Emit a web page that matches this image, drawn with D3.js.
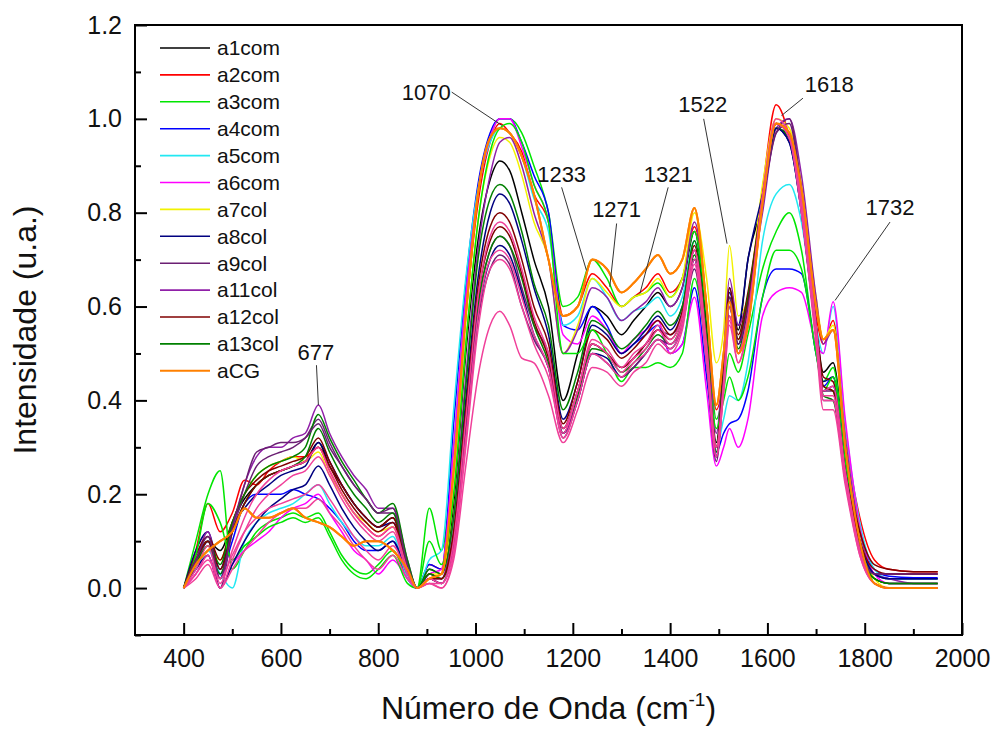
<!DOCTYPE html>
<html>
<head>
<meta charset="utf-8">
<script src="https://cdn.jsdelivr.net/npm/d3@7"></script>
<style>
body { margin: 0; background: #fff; }
svg { display: block; font-family: "Liberation Sans", Arial, sans-serif; }
</style>
</head>
<body>
<svg id="chart" width="994" height="731"></svg>
<script>
// wavenumber grid (cm-1) shared by every spectrum
const wavenumbers = [400, 425, 450, 475, 500, 525, 550, 575, 600, 625,
    650, 677, 700, 725, 750, 775, 800, 830, 860, 880,
    905, 930, 955, 980, 1005, 1030, 1050, 1070, 1095, 1120,
    1150, 1180, 1210, 1240, 1270, 1300, 1325, 1350, 1375, 1400,
    1425, 1450, 1475, 1495, 1510, 1522, 1540, 1560, 1590, 1618,
    1645, 1670, 1700, 1715, 1735, 1760, 1790, 1820, 1850, 1900, 1950]

const a1com = [0, 0.06, 0.1, 0.08, 0.14, 0.19, 0.22, 0.24, 0.25, 0.26,
    0.27, 0.31, 0.26, 0.22, 0.18, 0.15, 0.13, 0.15, 0.05, 0.0,
    0.04, 0.03, 0.18, 0.5, 0.74, 0.87, 0.91, 0.89, 0.8, 0.7,
    0.6, 0.4, 0.5, 0.6, 0.58, 0.54, 0.57, 0.6, 0.63, 0.6,
    0.64, 0.76, 0.56, 0.31, 0.48, 0.64, 0.55, 0.7, 0.82, 0.98,
    0.96, 0.82, 0.56, 0.46, 0.48, 0.28, 0.1, 0.02, 0.01, 0.01, 0.01]
const a2com = [0, 0.08, 0.18, 0.12, 0.16, 0.23, 0.22, 0.25, 0.27, 0.28,
    0.28, 0.3, 0.25, 0.2, 0.16, 0.13, 0.11, 0.13, 0.04, 0.0,
    0.05, 0.04, 0.25, 0.58, 0.82, 0.95, 0.99, 0.97, 0.93, 0.84,
    0.78, 0.58, 0.6, 0.67, 0.64, 0.6, 0.62, 0.64, 0.67, 0.63,
    0.66, 0.77, 0.6, 0.38, 0.45, 0.58, 0.5, 0.6, 0.85, 1.03,
    0.96, 0.82, 0.58, 0.52, 0.57, 0.33, 0.15, 0.06, 0.04, 0.035, 0.035]
const a3com = [0, 0.1, 0.2, 0.25, 0.04, 0.08, 0.12, 0.14, 0.15, 0.16,
    0.15, 0.16, 0.12, 0.07, 0.04, 0.03, 0.05, 0.08, 0.02, 0.0,
    0.17, 0.08, 0.3, 0.62, 0.84, 0.96, 1.0, 1.0, 0.97, 0.9,
    0.8, 0.6, 0.62, 0.7, 0.66, 0.6, 0.62, 0.63, 0.65, 0.62,
    0.66, 0.76, 0.58, 0.36, 0.42, 0.5, 0.46, 0.54, 0.68, 0.76,
    0.8, 0.72, 0.5, 0.44, 0.47, 0.28, 0.1, 0.01, 0.0, 0.0, 0.0]
const a4com = [0, 0.05, 0.1, 0.03, 0.1, 0.18, 0.2, 0.2, 0.2, 0.21,
    0.2, 0.19, 0.17, 0.14, 0.1, 0.08, 0.08, 0.1, 0.02, 0.0,
    0.05, 0.04, 0.35, 0.65, 0.86, 0.97, 1.0, 1.0, 0.95, 0.88,
    0.8, 0.56, 0.55, 0.6, 0.56, 0.5, 0.52, 0.54, 0.56, 0.5,
    0.52, 0.64, 0.45, 0.29, 0.33, 0.35, 0.36, 0.42, 0.62, 0.68,
    0.68, 0.67, 0.5, 0.43, 0.45, 0.27, 0.12, 0.04, 0.025, 0.022, 0.022]
const a5com = [0, 0.04, 0.08, 0.03, 0.0, 0.1, 0.14, 0.16, 0.17, 0.18,
    0.2, 0.22, 0.18, 0.14, 0.11, 0.09, 0.09, 0.11, 0.02, 0.0,
    0.06, 0.08, 0.38, 0.66, 0.85, 0.95, 0.98, 0.97, 0.92, 0.83,
    0.76, 0.56, 0.58, 0.66, 0.62, 0.57, 0.59, 0.6, 0.62, 0.58,
    0.62, 0.74, 0.52, 0.3, 0.36, 0.41, 0.4, 0.48, 0.74, 0.84,
    0.86, 0.78, 0.56, 0.5, 0.6, 0.35, 0.14, 0.04, 0.02, 0.02, 0.02]
const a6com = [0, 0.03, 0.07, 0.0, 0.05, 0.08, 0.1, 0.12, 0.15, 0.17,
    0.18, 0.2, 0.16, 0.12, 0.08, 0.06, 0.03, 0.06, 0.02, 0.0,
    0.03, 0.04, 0.3, 0.62, 0.84, 0.96, 1.0, 1.0, 0.94, 0.86,
    0.78, 0.54, 0.52, 0.58, 0.55, 0.5, 0.53, 0.55, 0.57, 0.5,
    0.52, 0.62, 0.42, 0.26, 0.3, 0.34, 0.3, 0.36, 0.58, 0.63,
    0.64, 0.63, 0.52, 0.5, 0.61, 0.36, 0.13, 0.03, 0.01, 0.01, 0.01]
const a7col = [0, 0.05, 0.09, 0.06, 0.14, 0.2, 0.24, 0.26, 0.27, 0.28,
    0.27, 0.29, 0.24, 0.2, 0.16, 0.14, 0.12, 0.13, 0.04, 0.0,
    0.03, 0.03, 0.2, 0.52, 0.78, 0.92, 0.96, 0.95, 0.88, 0.78,
    0.7, 0.5, 0.56, 0.66, 0.63, 0.6, 0.62, 0.63, 0.66, 0.62,
    0.66, 0.8, 0.66, 0.48, 0.55, 0.73, 0.58, 0.62, 0.86, 1.0,
    0.98, 0.86, 0.62, 0.53, 0.56, 0.32, 0.12, 0.02, 0.0, 0.0, 0.0]
const a8col = [0, 0.08, 0.12, 0.04, 0.13, 0.17, 0.2, 0.22, 0.24, 0.25,
    0.26, 0.31, 0.27, 0.22, 0.18, 0.15, 0.13, 0.14, 0.05, 0.0,
    0.03, 0.02, 0.12, 0.4, 0.66, 0.8, 0.84, 0.82, 0.74, 0.64,
    0.54, 0.36, 0.44, 0.56, 0.54, 0.5, 0.52, 0.55, 0.58, 0.55,
    0.6, 0.72, 0.52, 0.28, 0.46, 0.63, 0.56, 0.7, 0.84, 0.98,
    0.95, 0.8, 0.54, 0.44, 0.45, 0.26, 0.1, 0.03, 0.02, 0.02, 0.02]
const a9col = [0, 0.05, 0.1, 0.0, 0.12, 0.2, 0.26, 0.28, 0.29, 0.3,
    0.32, 0.36, 0.31, 0.26, 0.22, 0.19, 0.16, 0.16, 0.05, 0.0,
    0.02, 0.01, 0.1, 0.35, 0.6, 0.72, 0.75, 0.73, 0.64, 0.56,
    0.5, 0.34, 0.42, 0.52, 0.5, 0.47, 0.49, 0.52, 0.55, 0.54,
    0.58, 0.7, 0.5, 0.28, 0.45, 0.6, 0.52, 0.6, 0.82, 0.97,
    0.99, 0.84, 0.56, 0.42, 0.42, 0.24, 0.09, 0.03, 0.03, 0.03, 0.03]
const a11col = [0, 0.06, 0.12, 0.02, 0.12, 0.22, 0.28, 0.3, 0.3, 0.32,
    0.33, 0.39, 0.33, 0.28, 0.24, 0.21, 0.17, 0.17, 0.06, 0.0,
    0.02, 0.02, 0.15, 0.45, 0.72, 0.88, 0.95, 0.96, 0.9, 0.8,
    0.7, 0.5, 0.55, 0.64, 0.62, 0.57, 0.59, 0.61, 0.64, 0.6,
    0.64, 0.78, 0.6, 0.33, 0.5, 0.66, 0.56, 0.62, 0.8, 0.98,
    1.0, 0.88, 0.62, 0.52, 0.55, 0.32, 0.12, 0.03, 0.02, 0.01, 0.01]
const a12col = [0, 0.07, 0.11, 0.06, 0.14, 0.2, 0.23, 0.25, 0.26, 0.27,
    0.28, 0.32, 0.27, 0.22, 0.18, 0.15, 0.13, 0.15, 0.05, 0.0,
    0.03, 0.02, 0.12, 0.38, 0.64, 0.77, 0.8, 0.78, 0.7, 0.6,
    0.52, 0.35, 0.44, 0.55, 0.53, 0.49, 0.51, 0.54, 0.57, 0.54,
    0.59, 0.73, 0.52, 0.3, 0.47, 0.64, 0.54, 0.63, 0.83, 0.99,
    0.96, 0.82, 0.56, 0.45, 0.44, 0.27, 0.12, 0.05, 0.04, 0.035, 0.035]
const a13col = [0, 0.06, 0.1, 0.05, 0.14, 0.2, 0.24, 0.26, 0.27, 0.28,
    0.3, 0.37, 0.32, 0.27, 0.23, 0.19, 0.16, 0.18, 0.06, 0.0,
    0.04, 0.03, 0.15, 0.43, 0.7, 0.83, 0.86, 0.84, 0.76, 0.65,
    0.56, 0.38, 0.46, 0.57, 0.55, 0.51, 0.53, 0.56, 0.59, 0.56,
    0.6, 0.74, 0.54, 0.3, 0.47, 0.62, 0.53, 0.62, 0.83, 0.98,
    0.96, 0.82, 0.55, 0.43, 0.42, 0.24, 0.08, 0.02, 0.01, 0.01, 0.01]
const aCG = [0, 0.05, 0.08, 0.1, 0.12, 0.17, 0.15, 0.15, 0.16, 0.17,
    0.15, 0.14, 0.13, 0.11, 0.09, 0.1, 0.1, 0.08, 0.04, 0.0,
    0.02, 0.03, 0.25, 0.58, 0.84, 0.96, 0.98, 0.97, 0.92, 0.84,
    0.7, 0.58, 0.6, 0.7, 0.68, 0.63, 0.65, 0.68, 0.71, 0.67,
    0.7, 0.81, 0.6, 0.39, 0.5, 0.61, 0.5, 0.56, 0.82, 0.99,
    0.97, 0.85, 0.6, 0.53, 0.55, 0.3, 0.1, 0.01, 0.0, 0.0, 0.0]

// replicate spectra that are plotted but not listed in the legend
const rep3com = [0, 0.07, 0.18, 0.14, 0.06, 0.09, 0.11, 0.13, 0.14, 0.15,
    0.14, 0.15, 0.11, 0.06, 0.03, 0.02, 0.04, 0.07, 0.01, 0.0,
    0.1, 0.05, 0.2, 0.52, 0.78, 0.93, 0.98, 0.99, 0.95, 0.86,
    0.78, 0.5, 0.5, 0.55, 0.5, 0.44, 0.47, 0.47, 0.48, 0.47,
    0.5, 0.66, 0.5, 0.34, 0.4, 0.45, 0.4, 0.45, 0.62, 0.72,
    0.72, 0.68, 0.5, 0.42, 0.45, 0.27, 0.1, 0.01, 0.0, 0.0, 0.0]
const rep13col = [0, 0.05, 0.09, 0.03, 0.12, 0.18, 0.22, 0.24, 0.25, 0.26,
    0.28, 0.34, 0.29, 0.24, 0.2, 0.17, 0.14, 0.16, 0.05, 0.0,
    0.03, 0.02, 0.1, 0.34, 0.6, 0.72, 0.75, 0.73, 0.66, 0.56,
    0.48, 0.33, 0.41, 0.51, 0.5, 0.46, 0.48, 0.51, 0.54, 0.52,
    0.57, 0.71, 0.51, 0.29, 0.45, 0.6, 0.51, 0.59, 0.82, 0.98,
    0.96, 0.81, 0.54, 0.41, 0.4, 0.23, 0.08, 0.02, 0.01, 0.01, 0.01]
const rep8col = [0, 0.04, 0.07, 0.0, 0.05, 0.1, 0.14, 0.17, 0.19, 0.21,
    0.22, 0.26, 0.22, 0.17, 0.13, 0.1, 0.08, 0.1, 0.03, 0.0,
    0.02, 0.01, 0.09, 0.33, 0.58, 0.7, 0.73, 0.71, 0.63, 0.54,
    0.47, 0.33, 0.4, 0.5, 0.49, 0.45, 0.47, 0.5, 0.53, 0.51,
    0.56, 0.7, 0.5, 0.28, 0.44, 0.6, 0.52, 0.6, 0.82, 0.98,
    0.95, 0.8, 0.54, 0.42, 0.43, 0.25, 0.1, 0.03, 0.02, 0.02, 0.02]
const rep12col = [0, 0.06, 0.1, 0.04, 0.12, 0.18, 0.22, 0.24, 0.25, 0.26,
    0.27, 0.3, 0.26, 0.21, 0.17, 0.14, 0.12, 0.14, 0.04, 0.0,
    0.02, 0.02, 0.11, 0.36, 0.62, 0.74, 0.77, 0.75, 0.67, 0.57,
    0.49, 0.34, 0.42, 0.52, 0.5, 0.47, 0.49, 0.52, 0.55, 0.53,
    0.58, 0.72, 0.52, 0.3, 0.46, 0.62, 0.53, 0.61, 0.83, 0.99,
    0.96, 0.82, 0.55, 0.43, 0.42, 0.25, 0.1, 0.04, 0.03, 0.03, 0.03]
const rep9col = [0, 0.06, 0.11, 0.02, 0.13, 0.22, 0.29, 0.3, 0.31, 0.31,
    0.32, 0.35, 0.3, 0.26, 0.22, 0.19, 0.16, 0.17, 0.05, 0.0,
    0.02, 0.01, 0.09, 0.32, 0.57, 0.68, 0.71, 0.69, 0.6, 0.53,
    0.47, 0.32, 0.4, 0.5, 0.48, 0.45, 0.47, 0.5, 0.53, 0.52,
    0.56, 0.68, 0.48, 0.27, 0.44, 0.62, 0.52, 0.6, 0.82, 0.97,
    1.0, 0.85, 0.56, 0.4, 0.4, 0.23, 0.08, 0.03, 0.03, 0.03, 0.03]
const pink1 = [0, 0.04, 0.09, 0.01, 0.08, 0.15, 0.2, 0.23, 0.25, 0.26,
    0.27, 0.3, 0.25, 0.2, 0.16, 0.13, 0.11, 0.13, 0.04, 0.0,
    0.02, 0.01, 0.1, 0.36, 0.62, 0.75, 0.78, 0.76, 0.68, 0.58,
    0.5, 0.34, 0.42, 0.53, 0.51, 0.47, 0.5, 0.52, 0.56, 0.53,
    0.58, 0.72, 0.52, 0.3, 0.44, 0.6, 0.5, 0.58, 0.83, 0.99,
    0.97, 0.83, 0.56, 0.42, 0.43, 0.25, 0.08, 0.01, 0.0, 0.0, 0.0]
const pink2 = [0, 0.03, 0.07, 0.0, 0.06, 0.12, 0.17, 0.2, 0.22, 0.24,
    0.25, 0.28, 0.24, 0.19, 0.15, 0.12, 0.1, 0.12, 0.03, 0.0,
    0.01, 0.01, 0.08, 0.32, 0.58, 0.7, 0.72, 0.7, 0.62, 0.54,
    0.47, 0.32, 0.4, 0.5, 0.48, 0.45, 0.48, 0.5, 0.53, 0.51,
    0.56, 0.7, 0.5, 0.28, 0.42, 0.57, 0.48, 0.56, 0.82, 0.99,
    0.96, 0.8, 0.54, 0.4, 0.4, 0.23, 0.07, 0.01, 0.0, 0.0, 0.0]
const pink3 = [0, 0.02, 0.05, 0.0, 0.04, 0.08, 0.11, 0.14, 0.16, 0.17,
    0.17, 0.19, 0.16, 0.13, 0.09, 0.06, 0.04, 0.07, 0.02, 0.0,
    0.01, 0.0, 0.07, 0.3, 0.55, 0.68, 0.7, 0.68, 0.6, 0.52,
    0.45, 0.33, 0.42, 0.52, 0.5, 0.46, 0.49, 0.51, 0.55, 0.52,
    0.57, 0.72, 0.5, 0.3, 0.43, 0.58, 0.5, 0.58, 0.84, 1.0,
    0.97, 0.82, 0.55, 0.41, 0.41, 0.24, 0.08, 0.01, 0.0, 0.0, 0.0]
const pink4 = [0, 0.03, 0.06, 0.02, 0.07, 0.12, 0.15, 0.17, 0.18, 0.19,
    0.2, 0.22, 0.19, 0.15, 0.11, 0.08, 0.06, 0.09, 0.03, 0.0,
    0.01, 0.0, 0.06, 0.26, 0.45, 0.56, 0.59, 0.56, 0.49, 0.48,
    0.41, 0.31, 0.38, 0.47, 0.46, 0.43, 0.46, 0.48, 0.52, 0.5,
    0.55, 0.69, 0.48, 0.28, 0.42, 0.56, 0.48, 0.56, 0.82, 0.99,
    0.96, 0.8, 0.52, 0.38, 0.38, 0.22, 0.07, 0.01, 0.0, 0.0, 0.0]

const legendNames = ["a1com", "a2com", "a3com", "a4com", "a5com", "a6com", "a7col",
    "a8col", "a9col", "a11col", "a12col", "a13col", "aCG"]
const legendValues = [a1com, a2com, a3com, a4com, a5com, a6com, a7col,
    a8col, a9col, a11col, a12col, a13col, aCG]
const colors = ["#000000", "#ff0000", "#00e600", "#0000ff", "#22e8f2", "#ff00ff", "#f2f200",
    "#000080", "#6b1f73", "#9020a8", "#800000", "#008000", "#ff8000"]

const extraValues = [rep3com, rep13col, rep8col, rep12col, rep9col, pink1, pink2, pink3, pink4]
const extraColors = ["#00e600", "#008000", "#000080", "#800000", "#6b1f73", "#f0409a", "#f0409a", "#f0409a", "#f0409a"]

const xTicks = [400, 600, 800, 1000, 1200, 1400, 1600, 1800, 2000]
const xMinor = [500, 700, 900, 1100, 1300, 1500, 1700, 1900]
const yTicks = [0, 0.2, 0.4, 0.6, 0.8, 1.0, 1.2]
const yMinor = [-0.1, 0.1, 0.3, 0.5, 0.7, 0.9, 1.1]

// peak labels: where the leader line touches the band, and where the label sits
const peaks = [
    {label: "677",  px: 677,  py: 0.39,  lx: 673,  ly: 0.475, tx: 672,  ty: 0.486, anchor: "middle"},
    {label: "1070", px: 1054, py: 0.986, lx: 951,  ly: 1.057, tx: 949,  ty: 1.041, anchor: "end"},
    {label: "1233", px: 1228, py: 0.677, lx: 1177, ly: 0.854, tx: 1177, ty: 0.865, anchor: "middle"},
    {label: "1271", px: 1276, py: 0.642, lx: 1290, ly: 0.777, tx: 1290, ty: 0.791, anchor: "middle"},
    {label: "1321", px: 1338, py: 0.628, lx: 1396, ly: 0.854, tx: 1396, ty: 0.865, anchor: "middle"},
    {label: "1522", px: 1517, py: 0.734, lx: 1469, ly: 1.0,   tx: 1467, ty: 1.014, anchor: "middle"},
    {label: "1618", px: 1629, py: 1.007, lx: 1673, ly: 1.044, tx: 1677, ty: 1.057, anchor: "start"},
    {label: "1732", px: 1739, py: 0.613, lx: 1852, ly: 0.78,  tx: 1852, ty: 0.796, anchor: "middle"}
]

const svg = d3.select("#chart")
const plotLeft = 135, plotRight = 962, plotTop = 25, plotBottom = 635

const x = d3.scaleLinear().domain([300, 2000]).range([plotLeft, plotRight])
const y = d3.scaleLinear().domain([-0.1, 1.2]).range([plotBottom, plotTop])

svg.append("rect").attr("width", 994).attr("height", 731).attr("fill", "#fff")

const line = d3.line()
    .x(d => x(d[0]))
    .y(d => y(d[1]))
    .curve(d3.curveMonotoneX)

const plot = svg.append("g")

function drawSpectrum(values, color, width) {
    plot.append("path")
        .datum(d3.zip(wavenumbers, values))
        .attr("d", line)
        .attr("fill", "none")
        .attr("stroke", color)
        .attr("stroke-width", width)
        .attr("stroke-linejoin", "round")
}

legendValues.forEach((v, i) => drawSpectrum(v, colors[i], i == 12 ? 2 : 1.5))
extraValues.forEach((v, i) => drawSpectrum(v, extraColors[i], 1.5))
drawSpectrum(aCG, colors[12], 2)

// axes, ticks pointing inwards
const yAxis = svg.append("g")
    .attr("transform", `translate(${plotLeft},0)`)
    .call(d3.axisLeft(y).tickValues(yTicks).tickFormat(d3.format(".1f"))
        .tickSizeInner(-12).tickSizeOuter(0).tickPadding(13))
svg.append("g")
    .attr("transform", `translate(${plotLeft},0)`)
    .call(d3.axisLeft(y).tickValues(yMinor).tickFormat("").tickSizeInner(-6).tickSizeOuter(0))
    .select(".domain").remove()

const xAxis = svg.append("g")
    .attr("transform", `translate(0,${plotBottom})`)
    .call(d3.axisBottom(x).tickValues(xTicks).tickFormat(d3.format("d"))
        .tickSizeInner(-12).tickSizeOuter(0).tickPadding(14))
svg.append("g")
    .attr("transform", `translate(0,${plotBottom})`)
    .call(d3.axisBottom(x).tickValues(xMinor).tickFormat("").tickSizeInner(-6).tickSizeOuter(0))
    .select(".domain").remove()

yAxis.select(".domain").remove()
xAxis.select(".domain").remove()
svg.selectAll(".tick line").attr("stroke", "#000").attr("stroke-width", 2)
svg.selectAll(".tick text")
    .attr("font-family", "'Liberation Sans', Arial, sans-serif")
    .attr("font-size", 25)
    .attr("fill", "#111")

svg.append("rect")
    .attr("x", plotLeft).attr("y", plotTop)
    .attr("width", plotRight - plotLeft).attr("height", plotBottom - plotTop)
    .attr("fill", "none").attr("stroke", "#000").attr("stroke-width", 2)

// axis titles
svg.append("text")
    .attr("transform", `translate(36,${(plotTop + plotBottom) / 2}) rotate(-90)`)
    .attr("text-anchor", "middle")
    .attr("font-size", 32)
    .attr("fill", "#111")
    .text("Intensidade (u.a.)")

const xt = svg.append("text")
    .attr("x", (plotLeft + plotRight) / 2)
    .attr("y", 719)
    .attr("text-anchor", "middle")
    .attr("font-size", 32)
    .attr("fill", "#111")
xt.append("tspan").text("Número de Onda (cm")
xt.append("tspan").text("-1").attr("font-size", 19).attr("dy", -13)
xt.append("tspan").text(")").attr("dy", 13)

// peak annotations
peaks.forEach(p => {
    svg.append("line")
        .attr("x1", x(p.lx)).attr("y1", y(p.ly))
        .attr("x2", x(p.px)).attr("y2", y(p.py))
        .attr("stroke", "#333").attr("stroke-width", 1)
    svg.append("text")
        .attr("x", x(p.tx)).attr("y", y(p.ty))
        .attr("text-anchor", p.anchor)
        .attr("font-size", 22)
        .attr("fill", "#111")
        .text(p.label)
})

// legend
const legend = svg.append("g")
legendNames.forEach((name, i) => {
    const ly = 48 + i * 26.9
    legend.append("line")
        .attr("x1", 160).attr("x2", 210)
        .attr("y1", ly).attr("y2", ly)
        .attr("stroke", colors[i]).attr("stroke-width", i == 12 ? 2 : 1.6)
    legend.append("text")
        .attr("x", 217).attr("y", ly)
        .attr("dy", "0.35em")
        .attr("font-size", 21)
        .attr("fill", "#111")
        .text(name)
})
</script>
</body>
</html>
